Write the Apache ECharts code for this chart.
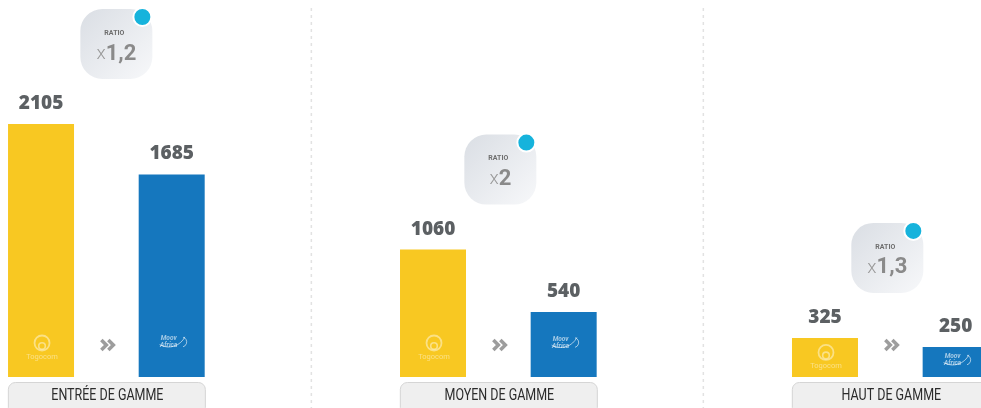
<!DOCTYPE html>
<html>
<head>
<meta charset="utf-8">
<title>Ratio Togocom / Moov Africa</title>
<script src="https://cdn.jsdelivr.net/npm/echarts@6/dist/echarts.min.js"></script>
<style>
body{margin:0;padding:0;background:#fff;}
#main{width:981px;height:408px;}
</style>
</head>
<body>
<div id="main"></div>
<script>
// donnees
var gammes = ['ENTRÉE DE GAMME', 'MOYEN DE GAMME', 'HAUT DE GAMME'];
var togocom = [2105, 1060, 325];
var moov = [1685, 540, 250];
var ratios = ['1,2', '2', '1,3'];

var YELLOW = '#F8C822';
var BLUE = '#1577BE';

// chaque gamme occupe 3 emplacements : togocom, moov, vide
var barData = [];
var logoData = [];
var groupData = [];
for (var i = 0; i < gammes.length; i++) {
    barData.push({value: [3 * i, togocom[i]], itemStyle: {color: YELLOW}});
    barData.push({value: [3 * i + 1, moov[i]], itemStyle: {color: BLUE}});
    logoData.push([3 * i, togocom[i], 0]);
    logoData.push([3 * i + 1, moov[i], 1]);
    groupData.push([3 * i + 0.5, Math.max(togocom[i], moov[i]), i]);
}
var badgeNudge = [10, 2, -3];

function renderBadge(params, api) {
    var i = api.value(2);
    var top = api.coord([api.value(0), api.value(1)]);
    var base = api.coord([api.value(0), 0]);
    var cx = top[0] + badgeNudge[i];
    var cy = top[1] - 80;
    var gx = base[0];
    var children = [
        // cadre ratio
        {type: 'rect', shape: {x: cx - 36, y: cy - 35, width: 72, height: 70, r: 22},
         style: {fill: new echarts.graphic.LinearGradient(0, 0, 1, 1, [
             {offset: 0, color: '#dadee4'}, {offset: 1, color: '#f7f8fa'}])}},
        {type: 'circle', shape: {cx: cx + 26, cy: cy - 27, r: 9},
         style: {fill: '#16B3DC', stroke: '#fff', lineWidth: 2}},
        {type: 'text', style: {text: 'RATIO', x: cx - 2, y: cy - 11, align: 'center', verticalAlign: 'middle',
         fontSize: 7, fontWeight: 'bold', fontFamily: 'Roboto', fill: '#6e6e6e'}},
        {type: 'text', style: {text: '{a|x}{b|' + ratios[i] + '}', x: cx, y: cy + 10, align: 'center', verticalAlign: 'middle',
         rich: {
             a: {fontSize: 19, fontFamily: 'Roboto', fontWeight: 300, fill: '#9a9a9a'},
             b: {fontSize: 22, fontFamily: 'Roboto', fontWeight: 'bold', fill: '#8a8a8a'}
         }}},
        // fleches
        {type: 'polyline', shape: {points: [[gx - 5, base[1] - 37], [gx, base[1] - 32], [gx - 5, base[1] - 27]]},
         style: {stroke: '#9d9d9d', lineWidth: 3.5, fill: null}},
        {type: 'polyline', shape: {points: [[gx + 2, base[1] - 37], [gx + 7, base[1] - 32], [gx + 2, base[1] - 27]]},
         style: {stroke: '#9d9d9d', lineWidth: 3.5, fill: null}},
        // etiquette de gamme
        {type: 'rect', shape: {x: gx - 98, y: base[1] + 5.5, width: 197, height: 32, r: 7},
         style: {fill: '#efefef', stroke: '#d5d5d5', lineWidth: 1}},
        {type: 'text', x: gx + 1, y: base[1] + 19, scaleX: 0.78,
         style: {text: gammes[i], x: 0, y: 0, align: 'center', verticalAlign: 'middle',
         fontSize: 16, fontFamily: 'Roboto', fill: '#2b2b2b'}}
    ];
    if (i > 0) {
        var sx = api.coord([3 * i - 1, 0])[0] + 9;
        children.push({type: 'line', shape: {x1: sx, y1: 8, x2: sx, y2: 408},
            style: {stroke: '#e2e2e2', lineWidth: 1.5, lineDash: [3, 4]}});
    }
    return {type: 'group', children: children};
}

function renderLogo(params, api) {
    var p = api.coord([api.value(0), 0]);
    var t = api.coord([api.value(0), api.value(1)]);
    var cx = p[0] + 1;
    var by = p[1];
    if (api.value(2) === 0) {
        var c = 'rgba(255,255,255,0.45)';
        var ly = Math.max(by - 28, (by + t[1]) / 2 + 1);
        return {type: 'group', children: [
            {type: 'circle', shape: {cx: cx, cy: ly - 6, r: 7.5}, style: {fill: null, stroke: c, lineWidth: 1.8}},
            {type: 'circle', shape: {cx: cx, cy: ly - 3, r: 3.3}, style: {fill: null, stroke: c, lineWidth: 1.6}},
            {type: 'text', style: {text: 'Togocom', x: cx, y: ly + 8, align: 'center', verticalAlign: 'middle',
             fontSize: 7.5, fontFamily: 'Roboto', fill: c}}
        ]};
    }
    var m = 'rgba(255,255,255,0.6)';
    var my = Math.max(by - 34, (by + t[1]) / 2 - 1);
    return {type: 'group', children: [
        {type: 'text', style: {text: 'Moov\nAfrica', x: cx - 4, y: my - 1, align: 'center', verticalAlign: 'middle',
         fontSize: 6.5, lineHeight: 7, fontWeight: 'bold', fontStyle: 'italic', fontFamily: 'Roboto', fill: m}},
        {type: 'arc', shape: {cx: cx - 4, cy: my - 14, r: 18, startAngle: 0.45, endAngle: 2.1},
         style: {stroke: m, lineWidth: 1, fill: null}},
        {type: 'arc', shape: {cx: cx + 9, cy: my - 1, r: 5, startAngle: -1.3, endAngle: 1.3},
         style: {stroke: m, lineWidth: 1, fill: null}}
    ]};
}

var myChart = echarts.init(document.getElementById('main'), null, {renderer: 'canvas'});
myChart.setOption({
    animation: false,
    grid: {left: 0, right: 0, top: 0, bottom: 31},
    xAxis: {type: 'value', min: -0.314, max: 7.194, show: false},
    yAxis: {type: 'value', min: 0, max: 3137, show: false},
    series: [
        {
            type: 'bar',
            barWidth: 66,
            data: barData,
            label: {
                show: true, position: 'top', distance: 11,
                formatter: function (p) { return p.value[1]; },
                fontSize: 19, fontWeight: 800, fontFamily: 'Open Sans', color: '#5c6063'
            }
        },
        {type: 'custom', renderItem: renderLogo, data: logoData, clip: false, z: 3},
        {type: 'custom', renderItem: renderBadge, data: groupData, clip: false, z: 1}
    ]
});
</script>
</body>
</html>
